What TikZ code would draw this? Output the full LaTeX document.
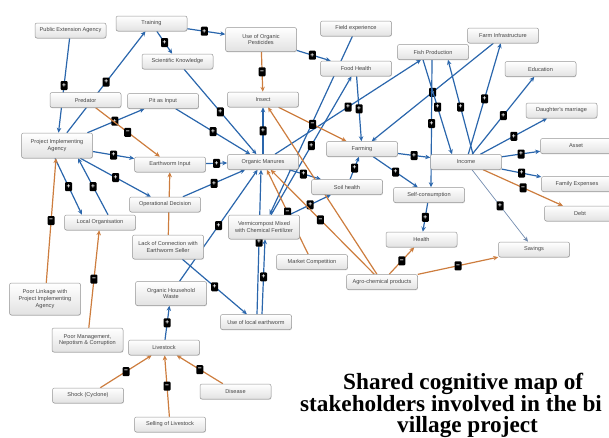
\documentclass[tikz,border=0pt]{standalone}
\usepackage{fontspec}
\setmainfont{Liberation Sans}
\newfontfamily\titlefont{Liberation Serif}
\usetikzlibrary{arrows.meta,shadows}
\definecolor{pblue}{RGB}{42,102,172}
\definecolor{porange}{RGB}{205,125,62}
\definecolor{pgrayblue}{RGB}{115,140,175}
\definecolor{boxline}{RGB}{150,150,150}
\definecolor{boxtext}{RGB}{70,70,70}
\definecolor{boxbottom}{RGB}{226,226,226}
\pgfdeclarelayer{edges}
\pgfsetlayers{edges,main}
\tikzset{
  concept/.style={draw=boxline, line width=0.5pt, rounded corners=2pt,
    top color=white, bottom color=boxbottom, minimum width=71pt,
    minimum height=15pt, inner sep=1pt, align=center, text=boxtext,
    font=\fontsize{5.6}{6.6}\selectfont,
    drop shadow={opacity=0.25, shadow xshift=0.4pt, shadow yshift=-0.8pt}},
  twoline/.style={minimum height=24pt},
  poslink/.style={draw=pblue, line width=1.2pt, -{Stealth[length=5pt,width=4.5pt]}},
  neglink/.style={draw=porange, line width=1.2pt, -{Stealth[length=5pt,width=4.5pt]}},
  thinlink/.style={draw=pgrayblue, line width=0.7pt, -{Stealth[length=5pt,width=4.5pt]}},
  sgn/.style={fill=black, text=white, rounded corners=1pt, minimum width=7pt,
    minimum height=9pt, inner sep=0pt, font=\fontsize{6.5}{6.5}\selectfont\bfseries},
  title/.style={inner sep=0pt, align=left, font=\titlefont\bfseries\fontsize{23.2}{21.5}\selectfont}
}
\begin{document}
\begin{tikzpicture}[x=1pt,y=-1pt]
\useasboundingbox (0,0) rectangle (609,437);
% nodes
\node[concept] (pea) at (70.5,30.5) {Public Extension Agency};
\node[concept] (train) at (151.5,23.5) {Training};
\node[concept] (sk) at (177.5,61.5) {Scientific Knowledge};
\node[concept, twoline] (uop) at (261,39.5) {Use of Organic\\Pesticides};
\node[concept] (fexp) at (356,28.5) {Field experience};
\node[concept] (fh) at (356,68.5) {Food Health};
\node[concept] (fp) at (433,52) {Fish Production};
\node[concept] (fi) at (503,35.5) {Farm Infrastructure};
\node[concept] (edu) at (540.5,69) {Education};
\node[concept] (dm) at (561.5,110.5) {Daughter's marriage};
\node[concept] (asset) at (576,146) {Asset};
\node[concept] (fe) at (577,184) {Family Expenses};
\node[concept] (debt) at (580,213.5) {Debt};
\node[concept] (savings) at (534,249.5) {Savings};
\node[concept] (income) at (466,162) {Income};
\node[concept] (sc) at (429,195) {Self-consumption};
\node[concept] (health) at (421.5,239.5) {Health};
\node[concept] (agro) at (382,282) {Agro-chemical products};
\node[concept] (farming) at (362,149) {Farming};
\node[concept] (soil) at (347,187) {Soil health};
\node[concept] (market) at (312,262) {Market Competition};
\node[concept, twoline] (vermi) at (264,227) {Vermicompost Mixed\\with Chemical Fertilizer};
\node[concept] (om) at (263,162) {Organic Manures};
\node[concept] (insect) at (263,99.5) {Insect};
\node[concept] (predator) at (85.5,100) {Predator};
\node[concept] (pit) at (163,101) {Pit as Input};
\node[concept, minimum height=25pt] (pia) at (57,145.5) {Project Implementing\\Agency};
\node[concept] (ei) at (170,164.5) {Earthworm Input};
\node[concept] (od) at (165,204.5) {Operational Decision};
\node[concept] (lo) at (100,222.5) {Local Organisation};
\node[concept, twoline] (lack) at (168,247) {Lack of Connection with\\Earthworm Seller};
\node[concept, twoline] (ohw) at (171,293.5) {Organic Household\\Waste};
\node[concept] (uole) at (256,322) {Use of local earthworm};
\node[concept] (livestock) at (164,347.5) {Livestock};
\node[concept, minimum height=32pt] (poorlink) at (45,299) {Poor Linkage with\\Project Implementing\\Agency};
\node[concept, twoline] (poormgmt) at (87.5,340) {Poor Management,\\Nepotism \& Corruption};
\node[concept] (shock) at (88,395.5) {Shock (Cyclone)};
\node[concept] (selling) at (170,424.5) {Selling of Livestock};
\node[concept] (disease) at (235.5,391.5) {Disease};
% title
\node[title, anchor=north west] (title) at (300,373) {\hspace*{43pt}Shared cognitive map of\\stakeholders involved in the bi\\\hspace*{97pt}village project};
% connectors
\begin{pgfonlayer}{edges}
\draw[poslink] (pea) -- node[sgn]{+} (pia);
\draw[poslink] (pia) -- node[sgn]{+} (train);
\draw[poslink] (train) -- node[sgn, pos=0.45]{+} (uop);
\draw[poslink] (train) -- node[sgn]{+} (sk);
\draw[poslink] (uop) -- node[sgn, pos=0.46]{+} (fh);
\draw[poslink] (pia) -- node[sgn, pos=0.48]{+} (pit);
\draw[poslink] (pia) -- node[sgn]{+} (ei);
\draw[poslink] (pia) -- node[sgn]{+} (od);
\draw[poslink] ([xshift=-2pt]pia.south) -- node[sgn]{+} ([xshift=-18pt]lo.north);
\draw[poslink] ([xshift=8pt]lo.north) -- node[sgn]{+} ([xshift=21pt]pia.south);
\draw[poslink] (sk) -- node[sgn]{+} (om);
\draw[poslink] (pit) -- node[sgn]{+} (om);
\draw[poslink] (ei) -- node[sgn]{+} (om);
\draw[poslink] (od) -- node[sgn]{+} (om);
\draw[poslink] (ohw) -- node[sgn]{+} (om);
\draw[poslink] (lack) -- node[sgn]{+} (uole);
\draw[poslink] ([xshift=1pt]uole.north) -- node[sgn]{+} ([xshift=-2pt]om.south);
\draw[poslink] ([xshift=6pt]uole.north) -- node[sgn]{+} ([xshift=1pt]vermi.south);
\draw[poslink] (livestock) -- node[sgn]{+} (ohw);
\draw[poslink] (om) -- node[sgn]{+} (insect);
\draw[poslink] (om) -- node[sgn, pos=0.45]{+} (soil);
\draw[poslink] (om) -- node[sgn]{+} (fp);
\draw[poslink] (vermi) -- node[sgn]{+} (fh);
\draw[poslink] (fexp) -- (vermi);
\draw[poslink] (vermi) -- node[sgn]{+} (soil);
\draw[poslink] (soil) -- node[sgn]{+} (farming);
\draw[poslink] (fh) -- node[sgn]{+} (farming);
\draw[poslink] (fi) -- node[sgn]{+} (farming);
\draw[poslink] (farming) -- node[sgn]{+} (income);
\draw[poslink] (farming) -- node[sgn]{+} (sc);
\draw[poslink] ([xshift=-10pt]fp.south) -- node[sgn]{+} ([xshift=-14pt]income.north);
\draw[poslink] ([xshift=-1pt]fp.south) -- node[sgn]{+} ([xshift=2pt]sc.north);
\draw[poslink] ([xshift=7pt]income.north) -- node[sgn]{+} ([xshift=15pt]fp.south);
\draw[poslink] (income) -- node[sgn]{+} (fi);
\draw[poslink] (income) -- node[sgn]{+} (edu);
\draw[poslink] (income) -- node[sgn]{+} (dm);
\draw[poslink] (income) -- node[sgn]{+} (asset);
\draw[poslink] (income) -- node[sgn]{+} (fe);
\draw[thinlink] (income) -- node[sgn]{+} (savings);
\draw[poslink] (sc) -- node[sgn]{+} (health);
\draw[neglink] (uop) -- node[sgn]{−} (insect);
\draw[neglink] (predator) -- node[sgn]{−} (ei);
\draw[neglink] (lack) -- (ei);
\draw[neglink] (poorlink) -- node[sgn]{−} (pia);
\draw[neglink] (poormgmt) -- node[sgn]{−} (lo);
\draw[neglink] (shock) -- node[sgn]{−} (livestock);
\draw[neglink] (selling) -- node[sgn]{−} (livestock);
\draw[neglink] (disease) -- node[sgn]{−} (livestock);
\draw[neglink] (insect) -- node[sgn]{−} (farming);
\draw[neglink] (agro) -- (insect);
\draw[neglink] (agro) -- node[sgn, pos=0.52]{−} (om);
\draw[neglink] (market) -- node[sgn]{−} (om);
\draw[neglink] (agro) -- node[sgn]{−} (health);
\draw[neglink] (agro) -- node[sgn]{−} (savings);
\draw[neglink] (income) -- node[sgn]{−} (debt);
\end{pgfonlayer}
\end{tikzpicture}
\end{document}
